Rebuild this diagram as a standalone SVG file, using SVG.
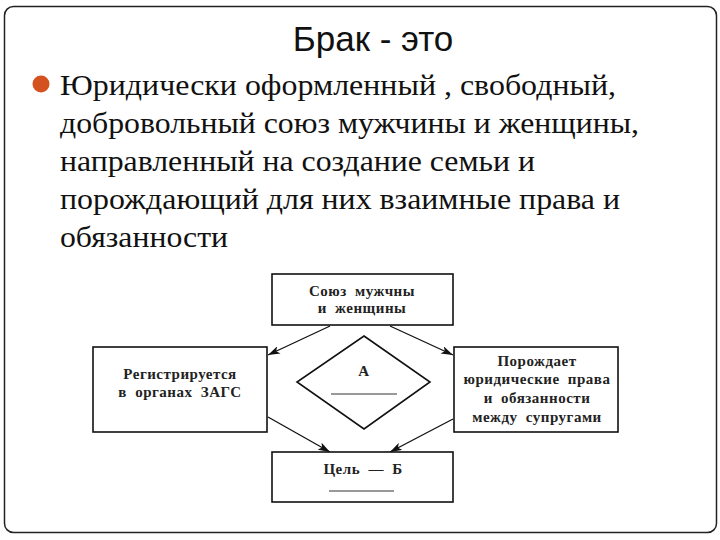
<svg xmlns="http://www.w3.org/2000/svg" width="720" height="540" viewBox="0 0 720 540">
<defs>
<style>
.frame{fill:#fff;stroke:#222;stroke-width:1.5}
.title{font-family:"Liberation Sans",Arial,sans-serif;font-size:35px;fill:#111;text-anchor:middle}
.bt{font-family:"Liberation Serif","DejaVu Serif",serif;font-size:30px;font-style:normal;font-weight:normal;fill:#111}
.box{fill:#fff;stroke:#111;stroke-width:1.6}
.lbl{font-family:"Liberation Serif","DejaVu Serif",serif;font-size:15px;font-weight:bold;fill:#222;text-anchor:middle;letter-spacing:0.5px;word-spacing:4px}
.rule{stroke:#333;stroke-width:1}
.conn{stroke:#111;stroke-width:1.3;fill:none;marker-end:url(#ah)}
</style>
<marker id="ah" viewBox="0 0 12 8" refX="12" refY="4" markerWidth="12" markerHeight="8" markerUnits="userSpaceOnUse" orient="auto">
<path d="M0,0 L12,4 L0,8 L3,4 Z" fill="#111"/>
</marker>
</defs>
<rect class="frame" x="4.5" y="6.5" width="712" height="526" rx="9"/>
<text class="title" x="373" y="51">Брак - это</text>
<circle cx="41" cy="84" r="8.5" fill="#D4521F"/>
<g id="definition">
<text class="bt" x="60" y="95" textLength="556" lengthAdjust="spacingAndGlyphs">Юридически оформленный , свободный,</text>
<text class="bt" x="60" y="133" textLength="579" lengthAdjust="spacingAndGlyphs">добровольный союз мужчины и женщины,</text>
<text class="bt" x="60" y="171" textLength="475" lengthAdjust="spacingAndGlyphs">направленный на создание семьи и</text>
<text class="bt" x="60" y="209" textLength="560" lengthAdjust="spacingAndGlyphs">порождающий для них взаимные права и</text>
<text class="bt" x="60" y="247" textLength="168" lengthAdjust="spacingAndGlyphs">обязанности</text>
</g>
<g id="connectors">
<line class="conn" x1="330" y1="326" x2="268" y2="355"/>
<line class="conn" x1="390" y1="326" x2="453" y2="355"/>
<line class="conn" x1="268" y1="417" x2="330" y2="452"/>
<line class="conn" x1="453" y1="419" x2="390" y2="452"/>
</g>
<g id="union">
<rect class="box" x="272" y="274" width="181" height="51"/>
<text class="lbl" x="362" y="296">Союз мужчны</text>
<text class="lbl" x="362" y="313">и женщины</text>
</g>
<g id="registry">
<rect class="box" x="93" y="347" width="174" height="85"/>
<text class="lbl" x="180" y="379">Регистрируется</text>
<text class="lbl" x="180" y="397">в органах ЗАГС</text>
</g>
<g id="rights">
<rect class="box" x="454" y="347" width="164" height="85"/>
<text class="lbl" x="537" y="366">Порождает</text>
<text class="lbl" x="537" y="384">юридические права</text>
<text class="lbl" x="537" y="403">и обязанности</text>
<text class="lbl" x="537" y="422">между супругами</text>
</g>
<g id="diamond">
<polygon class="box" points="364,336 430,382 364,429 297,382"/>
<text class="lbl" x="364" y="376">А</text>
<line class="rule" x1="331" y1="394" x2="397" y2="394"/>
</g>
<g id="goal">
<rect class="box" x="272" y="452" width="181" height="50"/>
<text class="lbl" x="363" y="474">Цель — Б</text>
<line class="rule" x1="329" y1="491" x2="394" y2="491"/>
</g>
</svg>
